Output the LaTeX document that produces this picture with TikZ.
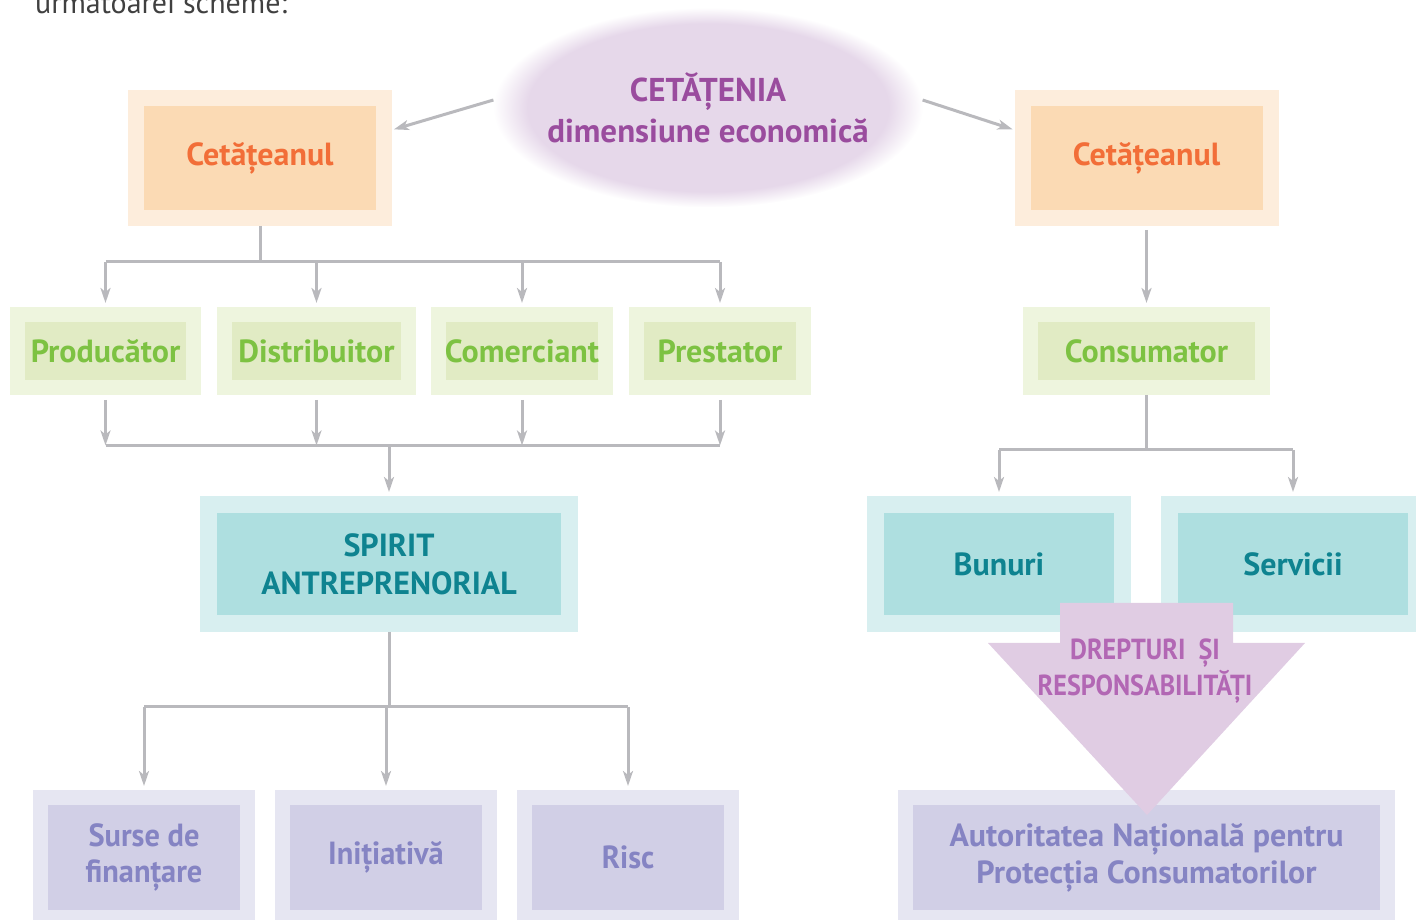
\documentclass[tikz,border=0pt]{standalone}
\usepackage{fontspec}
\setmainfont{PT Sans}
\newfontfamily\condfont{PT Sans}[FakeStretch=0.95]
\newfontfamily\narrowfont{PT Sans}[FakeStretch=0.9]
\usepackage{xcolor}
\usepackage{tikz}
\usetikzlibrary{arrows.meta,shapes.geometric}

\definecolor{orOut}{HTML}{FDEDDC}
\definecolor{orIn}{HTML}{FBDAB4}
\definecolor{orText}{HTML}{F26E38}
\definecolor{grOut}{HTML}{EEF5DE}
\definecolor{grIn}{HTML}{E1EBC4}
\definecolor{grText}{HTML}{7DC242}
\definecolor{tlOut}{HTML}{D8EFF0}
\definecolor{tlIn}{HTML}{AEDFE0}
\definecolor{tlText}{HTML}{0E8390}
\definecolor{lvOut}{HTML}{E6E6F2}
\definecolor{lvIn}{HTML}{D1CFE6}
\definecolor{lvText}{HTML}{8584C3}
\definecolor{ellIn}{HTML}{E6D8EA}
\definecolor{ellText}{HTML}{9A4C9E}
\definecolor{drText}{HTML}{B267B4}
\definecolor{drFill}{HTML}{E0CCE3}
\definecolor{lineGray}{HTML}{B9B9BD}

\pgfdeclareradialshading{ellsoft}{\pgfpoint{0bp}{0bp}}{color(0bp)=(ellIn); color(21bp)=(ellIn); color(25bp)=(white); color(50bp)=(white)}

\begin{document}
\begin{tikzpicture}[x=1pt, y=1pt,
    box/.style={rectangle, inner sep=0pt, align=center, font=\fontsize{32}{38}\selectfont\bfseries},
    orbox/.style={box, draw=orOut, fill=orIn, text=orText, line width=16pt, minimum width=248, minimum height=120},
    grbox/.style={box, draw=grOut, fill=grIn, text=grText, line width=15pt, minimum height=73},
    tlbox/.style={box, draw=tlOut, fill=tlIn, text=tlText, line width=17pt, minimum height=119},
    lvbox/.style={box, draw=lvOut, fill=lvIn, text=lvText, line width=15pt, minimum height=120},
    line/.style={draw=lineGray, line width=3pt},
    arr/.style={line, -{Stealth[length=15pt, width=10pt, inset=4pt]}, shorten >=4pt}]
    \useasboundingbox (0,0) rectangle (1416,920);

    % intro line, cut at the top
    \node[anchor=base west, inner sep=0pt, text=black!75, font=\fontsize{30}{32}\selectfont] (intro) at (35,906) {următoarei scheme:};

    % centre ellipse
    \node[ellipse, shade, shading=ellsoft, inner xsep=-15pt, inner ysep=0pt, minimum width=430, minimum height=200, align=center, text=ellText, font=\fontsize{33}{41}\selectfont\bfseries] (cet) at (708,812.5) {CETĂȚENIA\\dimensiune economică};

    % first row
    \node[orbox] (cetL) at (260,762) {Cetățeanul};
    \node[orbox] (cetR) at (1146.5,762) {Cetățeanul};

    % second row
    \node[grbox, minimum width=176] (prod) at (105.5,569) {Producător};
    \node[grbox, minimum width=184] (dist) at (316.5,569) {Distribuitor};
    \node[grbox, minimum width=167] (com) at (522,569) {Comerciant};
    \node[grbox, minimum width=167] (prest) at (720,569) {Prestator};
    \node[grbox, minimum width=232] (cons) at (1146.5,569) {Consumator};

    % third row
    \node[tlbox, minimum width=361] (spirit) at (389,356) {SPIRIT\\ANTREPRENORIAL};
    \node[tlbox, minimum width=247] (bun) at (999,356) {Bunuri};
    \node[tlbox, minimum width=247] (serv) at (1293,356) {Servicii};

    % last row
    \node[lvbox, minimum width=207, font=\fontsize{32}{36}\selectfont\bfseries\condfont] (sur) at (144,62.5) {Surse de\\finanțare};
    \node[lvbox, minimum width=207, font=\fontsize{32}{36}\selectfont\bfseries\condfont] (ini) at (386,62.5) {Inițiativă};
    \node[lvbox, minimum width=207, font=\fontsize{32}{36}\selectfont\bfseries\condfont] (risc) at (628,62.5) {Risc};
    \node[lvbox, minimum width=482, font=\fontsize{32}{37}\selectfont\bfseries] (anpc) at (1146.5,62.5) {Autoritatea Națională pentru\\Protecția Consumatorilor};

    % ellipse arrows
    \draw[arr, shorten >=2pt] (cet.178) -- (cetL.12);
    \draw[arr, shorten >=2pt] (cet.2) -- (cetR.168);

    % left tree
    \draw[line] (cetL.south) -- ++(0,-36) coordinate (jA);
    \draw[line] (jA -| prod) -- (jA -| prest);
    \foreach \n in {prod,dist,com,prest}
        \draw[arr] (jA -| \n) -- (\n.north);
    \path (prod.south) ++(0,-50.5) coordinate (jB);
    \foreach \n in {prod,dist,com,prest}
        \draw[arr, shorten <=5pt, shorten >=0pt] (\n.south) -- (jB -| \n);
    \draw[line] (jB -| prod) -- (jB -| prest);
    \draw[arr] (jB -| spirit) -- (spirit.north);
    \draw[line] (spirit.south) -- ++(0,-75) coordinate (jC);
    \draw[line] (jC -| sur) -- (jC -| risc);
    \foreach \n in {sur,ini,risc}
        \draw[arr] (jC -| \n) -- (\n.north);

    % right tree
    \draw[arr, shorten <=4pt] (cetR.south) -- (cons.north);
    \draw[line] (cons.south) -- ++(0,-55) coordinate (jD);
    \draw[line] (jD -| bun) -- (jD -| serv);
    \foreach \n in {bun,serv}
        \draw[arr] (jD -| \n) -- (\n.north);

    % big arrow
    \fill[drFill] (1060,317) -- (1233,317) -- (1233,277) -- (1305,277) -- (1147,105) -- (988,277) -- (1060,277) -- cycle;
    \node[align=center, text=drText, font=\fontsize{29}{36}\selectfont\bfseries\narrowfont] (drept) at (1145,249) {DREPTURI \ ȘI\\RESPONSABILITĂȚI};
\end{tikzpicture}
\end{document}
